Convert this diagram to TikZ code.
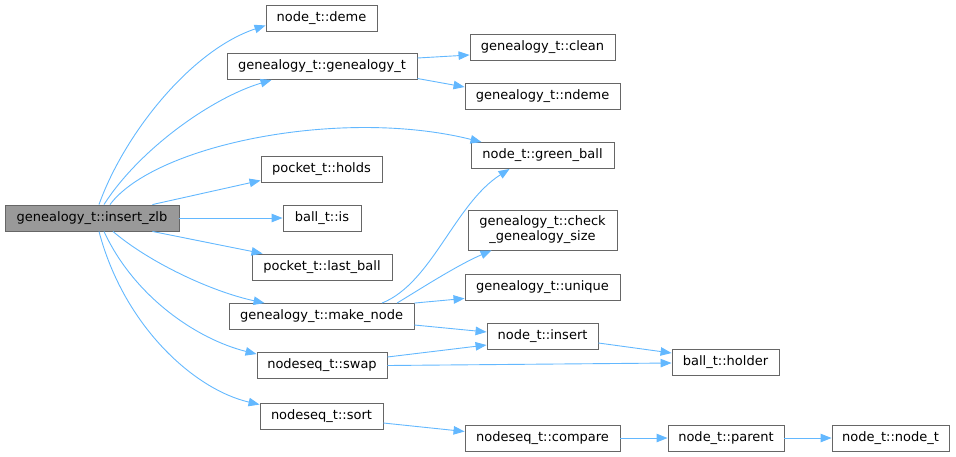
\documentclass[tikz,border=0pt]{standalone}
\usepackage{fontspec}
\setmainfont{DejaVu Sans}
\usepackage{tikz}
\usetikzlibrary{arrows.meta}

\definecolor{edgeblue}{HTML}{63B8FF}
\definecolor{boxline}{HTML}{666666}
\definecolor{boxfill}{HTML}{999999}

\tikzset{
	fn/.style={draw=boxline, line width=0.9pt, fill=white, minimum height=26pt,
		inner xsep=2pt, inner ysep=2pt, align=center,
		font=\fontsize{13}{15}\selectfont},
	call/.style={edgeblue, line width=0.9pt, -{Triangle[length=11pt,width=8.5pt]}}
}

\begin{document}
\begin{tikzpicture}[x=1pt,y=-1pt]

	\useasboundingbox (0,0) rectangle (956,456);

	% Functions
	\node[fn, fill=boxfill, minimum width=174pt] (zlb) at (92,218) {genealogy\_t::insert\_zlb};

	\node[fn, minimum width=111pt] (deme)   at (321.5,18)  {node\_t::deme};
	\node[fn, minimum width=190pt] (gentor) at (322,66.5)  {genealogy\_t::genealogy\_t};
	\node[fn, minimum width=121pt] (holds)  at (321.5,169) {pocket\_t::holds};
	\node[fn, minimum width=78pt]  (is)     at (322,218)   {ball\_t::is};
	\node[fn, minimum width=140pt] (last)   at (322,267)   {pocket\_t::last\_ball};
	\node[fn, minimum width=185pt] (make)   at (321.5,316.5) {genealogy\_t::make\_node};
	\node[fn, minimum width=130pt] (swap)   at (322,365.5) {nodeseq\_t::swap};
	\node[fn, minimum width=123pt] (sort)   at (321.5,416) {nodeseq\_t::sort};

	\node[fn, minimum width=145pt] (clean)   at (542.5,47)   {genealogy\_t::clean};
	\node[fn, minimum width=155pt] (ndeme)   at (542.5,96.5) {genealogy\_t::ndeme};
	\node[fn, minimum width=143pt] (green)   at (542.5,155.5) {node\_t::green\_ball};
	\node[fn, minimum width=149pt, minimum height=40pt] (check) at (542.5,230)
		{genealogy\_t::check\\\_genealogy\_size};
	\node[fn, minimum width=155pt] (unique)  at (542.5,287)  {genealogy\_t::unique};
	\node[fn, minimum width=111pt] (insert)  at (542.5,336.5) {node\_t::insert};
	\node[fn, minimum width=155pt] (compare) at (542.5,438)  {nodeseq\_t::compare};

	\node[fn, minimum width=107pt] (holder) at (725.5,362) {ball\_t::holder};
	\node[fn, minimum width=116pt] (parent) at (726,438)   {node\_t::parent};
	\node[fn, minimum width=117pt] (nodet)  at (890.5,438) {node\_t::node\_t};

	% Calls from insert_zlb
	\draw[call] ([xshift=7pt]zlb.north) .. controls +(25,-70) and +(-75,25) .. ([yshift=6pt]deme.south west);
	\draw[call] ([xshift=12pt]zlb.north) .. controls +(35,-55) and +(-60,18) .. ([xshift=45pt]gentor.south west);
	\draw[call] ([xshift=18pt]zlb.north) .. controls +(45,-60) and +(-140,-35) .. ([xshift=11pt]green.north west);
	\draw[call] ([xshift=-27pt]zlb.north east) -- ([yshift=2pt]holds.south west);
	\draw[call] (zlb.east) -- (is.west);
	\draw[call] ([xshift=-27pt]zlb.south east) -- ([xshift=11pt]last.north west);
	\draw[call] ([xshift=21pt]zlb.south) .. controls +(35,30) and +(-55,-12) .. ([xshift=36pt]make.north west);
	\draw[call] ([xshift=12pt]zlb.south) .. controls +(30,65) and +(-60,-15) .. ([yshift=-2pt]swap.north west);
	\draw[call] ([xshift=7pt]zlb.south) .. controls +(25,95) and +(-65,-15) .. ([yshift=-2pt]sort.north west);

	% Calls from genealogy_t
	\draw[call] ([yshift=8.5pt]gentor.east) -- ([yshift=-8pt]clean.west);
	\draw[call] ([yshift=-12pt]gentor.east) -- ([yshift=9.5pt]ndeme.west);

	% Calls from make_node
	\draw[call] ([xshift=60.5pt]make.north) .. controls +(50,-20) and +(-55,35) .. ([xshift=39pt]green.south west);
	\draw[call] ([xshift=75.5pt]make.north) .. controls +(20,-12) and +(-35,15) .. ([xshift=24pt]check.south west);
	\draw[call] (make.north east) -- ([yshift=2pt]unique.south west);
	\draw[call] ([yshift=-8.5pt]make.east) -- ([yshift=4.5pt]insert.west);

	% Calls from swap and insert
	\draw[call] ([yshift=8.5pt]swap.east) -- ([yshift=-8.5pt]insert.west);
	\draw[call] (swap.east) -- ([yshift=-1pt]holder.west);
	\draw[call] ([yshift=-6.5pt]insert.east) -- ([yshift=9pt]holder.west);

	% Calls from sort
	\draw[call] ([yshift=-7pt]sort.east) -- ([yshift=6.5pt]compare.west);
	\draw[call] (compare.east) -- (parent.west);
	\draw[call] (parent.east) -- (nodet.west);
\end{tikzpicture}
\end{document}
